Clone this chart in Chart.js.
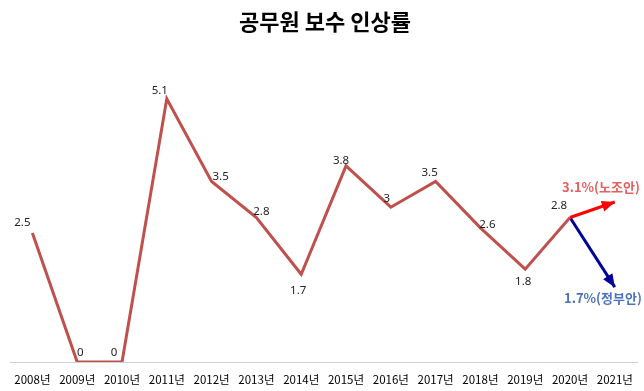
<!DOCTYPE html>
<html>
<head>
<meta charset="utf-8">
<script src="https://cdn.jsdelivr.net/npm/chart.js@4.4.1/dist/chart.umd.min.js"></script>
<style>
html,body{margin:0;padding:0;background:#fff;}
#wrap{width:644px;height:391px;}
</style>
</head>
<body>
<div id="wrap"><canvas id="c" width="644" height="391"></canvas></div>
<script>
const years = ['2008년','2009년','2010년','2011년','2012년','2013년','2014년','2015년','2016년','2017년','2018년','2019년','2020년','2021년'];
const raiseRates = [2.5, 0, 0, 5.1, 3.5, 2.8, 1.7, 3.8, 3, 3.5, 2.6, 1.8, 2.8, null];
const unionProposal = [null,null,null,null,null,null,null,null,null,null,null,null, 2.8, 3.1];
const govProposal = [null,null,null,null,null,null,null,null,null,null,null,null, 2.8, 1.45];
const unionLabel = '3.1%(노조안)';
const govLabel = '1.7%(정부안)';

// label offsets (styling only)
const labelOffsets = [[-10,-10],[3,-9],[-8,-9],[-7,-8],[9,-5],[5,-6],[-3,16],[-5,-5],[-4,-8],[-6,-9],[7,-3],[-2,13],[-11,-12],[0,0]];

const overlay = {
  id: 'overlay',
  afterDatasetsDraw(chart) {
    const ctx = chart.ctx;
    const meta0 = chart.getDatasetMeta(0);
    ctx.save();
    ctx.font = '11.5px "Noto Sans", "Noto Sans CJK KR", sans-serif';
    ctx.fillStyle = '#222';
    ctx.textAlign = 'center';
    ctx.textBaseline = 'middle';
    meta0.data.forEach((pt, i) => {
      const v = raiseRates[i];
      if (v === null || v === undefined) return;
      const o = labelOffsets[i];
      ctx.fillText(String(v), pt.x + o[0], pt.y + o[1]);
    });
    ctx.restore();
    [[1,'#FF0000'],[2,'#00009A']].forEach(([di, col]) => {
      const m = chart.getDatasetMeta(di);
      const a = m.data[12], b = m.data[13];
      const ang = Math.atan2(b.y - a.y, b.x - a.x);
      const L = 13, W = 5.5;
      ctx.save();
      ctx.fillStyle = col;
      ctx.translate(b.x, b.y);
      ctx.rotate(ang);
      ctx.beginPath();
      ctx.moveTo(0, 0);
      ctx.lineTo(-L, -W);
      ctx.lineTo(-L, W);
      ctx.closePath();
      ctx.fill();
      ctx.restore();
    });
    const r = chart.getDatasetMeta(1).data[13];
    const g = chart.getDatasetMeta(2).data[13];
    ctx.save();
    ctx.font = 'bold 13px "Noto Sans CJK KR", sans-serif';
    ctx.textAlign = 'right';
    ctx.textBaseline = 'middle';
    ctx.fillStyle = '#E0615F';
    ctx.fillText(unionLabel, r.x + 25, r.y - 15);
    ctx.fillStyle = '#4A72BC';
    ctx.fillText(govLabel, g.x + 27, g.y + 11);
    ctx.restore();
  }
};

new Chart(document.getElementById('c'), {
  type: 'line',
  data: {
    labels: years,
    datasets: [
      { data: raiseRates, borderColor: '#C0504D', borderWidth: 3, pointRadius: 0, tension: 0 },
      { data: unionProposal, borderColor: '#FF0000', borderWidth: 3, pointRadius: 0, tension: 0 },
      { data: govProposal, borderColor: '#00009A', borderWidth: 3, pointRadius: 0, tension: 0 }
    ]
  },
  options: {
    responsive: false,
    animation: false,
    layout: { padding: { left: 10, right: 4, top: 0, bottom: 0 } },
    plugins: {
      legend: { display: false },
      tooltip: { enabled: false },
      title: {
        display: true,
        text: '공무원 보수 인상률',
        color: '#000',
        font: { family: '"Noto Sans CJK KR", sans-serif', size: 22, weight: 'bold' },
        padding: { top: 8, bottom: 18 }
      }
    },
    scales: {
      x: {
        offset: true,
        grid: { display: false, drawTicks: false },
        border: { display: true, color: '#D0D0D0', width: 1 },
        ticks: { color: '#000', padding: 11, maxRotation: 0, autoSkip: false,
          font: { family: '"Noto Sans CJK KR", sans-serif', size: 11.5 } },
        afterFit(scale) { scale.height = 29; }
      },
      y: {
        display: false,
        min: 0,
        max: 6
      }
    }
  },
  plugins: [overlay]
});
</script>
</body>
</html>
